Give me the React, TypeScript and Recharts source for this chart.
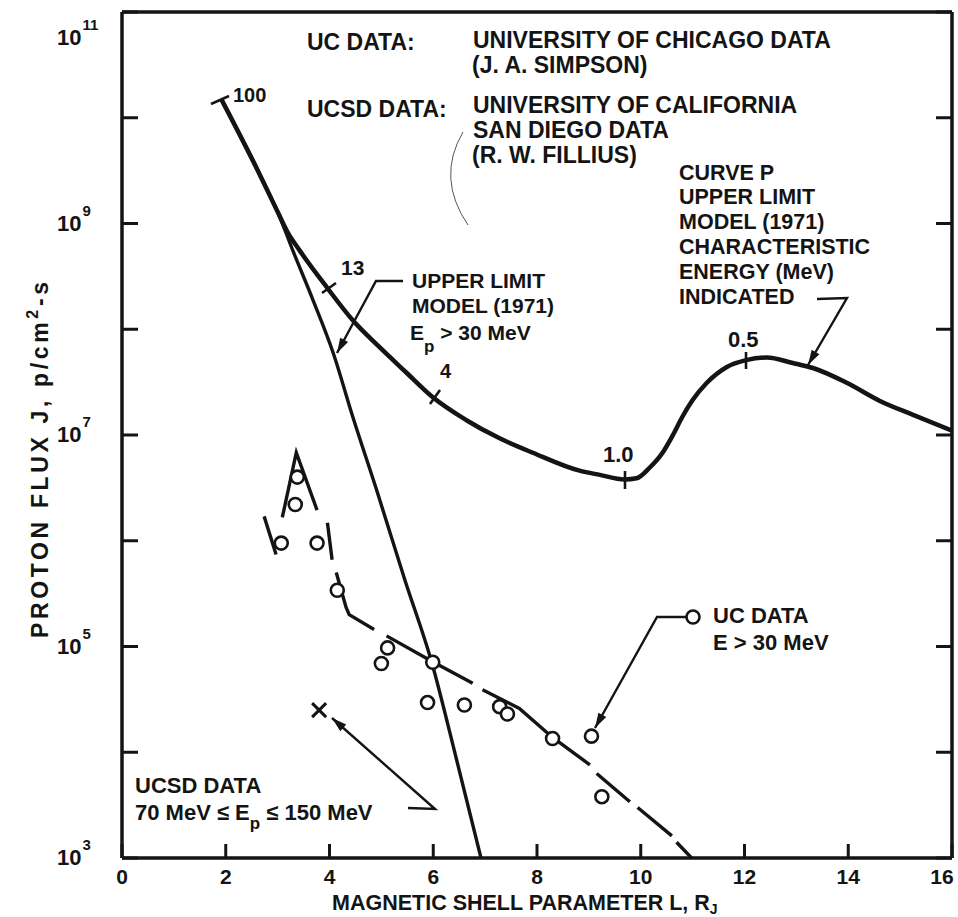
import React from "react";
import { ComposedChart, Line, Scatter, XAxis, YAxis } from "recharts";

const xTicks = [0, 2, 4, 6, 8, 10, 12, 14, 16];
const yTicks = [1e3, 1e4, 1e5, 1e6, 1e7, 1e8, 1e9, 1e10, 1e11];

// curve P: upper limit model (1971), characteristic energy marked along it
const curveP = [
  { x: 1.92, y: 1.48e10 },
  { x: 2.6, y: 3.3e9 },
  { x: 3.0, y: 1.29e9 },
  { x: 3.19, y: 8.3e8 },
  { x: 3.42, y: 5.6e8 },
  { x: 3.96, y: 2.45e8 },
  { x: 4.44, y: 1.23e8 },
  { x: 4.96, y: 6.8e7 },
  { x: 5.48, y: 3.9e7 },
  { x: 5.98, y: 2.3e7 },
  { x: 6.64, y: 1.38e7 },
  { x: 7.28, y: 9.3e6 },
  { x: 7.92, y: 6.8e6 },
  { x: 8.82, y: 4.6e6 },
  { x: 9.21, y: 4.2e6 },
  { x: 9.69, y: 3.8e6 },
  { x: 9.92, y: 3.9e6 },
  { x: 10.17, y: 4.9e6 },
  { x: 10.42, y: 6.8e6 },
  { x: 10.62, y: 1.0e7 },
  { x: 10.8, y: 1.48e7 },
  { x: 11.0, y: 2.14e7 },
  { x: 11.27, y: 3.1e7 },
  { x: 11.66, y: 4.4e7 },
  { x: 12.03, y: 5.1e7 },
  { x: 12.43, y: 5.4e7 },
  { x: 12.93, y: 4.8e7 },
  { x: 13.32, y: 4.3e7 },
  { x: 13.98, y: 3.1e7 },
  { x: 14.61, y: 2.1e7 },
  { x: 15.25, y: 1.55e7 },
  { x: 16.0, y: 1.1e7 },
];

// upper limit model (1971), Ep > 30 MeV
const model30 = [
  { x: 1.92, y: 1.48e10 },
  { x: 2.6, y: 3.3e9 },
  { x: 3.0, y: 1.29e9 },
  { x: 3.29, y: 5.6e8 },
  { x: 3.68, y: 1.9e8 },
  { x: 4.07, y: 6.0e7 },
  { x: 4.45, y: 1.48e7 },
  { x: 4.91, y: 3.0e6 },
  { x: 5.45, y: 4.3e5 },
  { x: 5.97, y: 7.1e4 },
  { x: 6.45, y: 8.5e3 },
  { x: 6.92, y: 1.0e3 },
];

// hand drawn dashed fit through the UC points, null = gap between dashes
const ucFit = [
  { x: 2.74, y: 1.7e6 },
  { x: 2.97, y: 7.4e5 },
  { x: 3.03, y: null },
  { x: 3.09, y: 1.66e6 },
  { x: 3.36, y: 6.8e6 },
  { x: 3.76, y: 1.95e6 },
  { x: 3.86, y: null },
  { x: 3.96, y: 1.48e6 },
  { x: 4.05, y: 6.6e5 },
  { x: 4.09, y: null },
  { x: 4.13, y: 5.0e5 },
  { x: 4.32, y: 2.34e5 },
  { x: 4.38, y: 2.0e5 },
  { x: 4.86, y: 1.45e5 },
  { x: 4.98, y: null },
  { x: 5.1, y: 1.26e5 },
  { x: 5.98, y: 7.2e4 },
  { x: 6.76, y: 4.5e4 },
  { x: 6.85, y: null },
  { x: 6.95, y: 3.9e4 },
  { x: 7.66, y: 2.6e4 },
  { x: 8.3, y: 1.38e4 },
  { x: 9.02, y: 7.6e3 },
  { x: 9.08, y: null },
  { x: 9.15, y: 6.3e3 },
  { x: 9.79, y: 3.4e3 },
  { x: 9.86, y: null },
  { x: 9.94, y: 3.0e3 },
  { x: 10.6, y: 1.62e3 },
  { x: 10.65, y: null },
  { x: 10.69, y: 1.41e3 },
  { x: 10.98, y: 1.0e3 },
];

// UC data, E > 30 MeV
const ucData = [
  { x: 3.38, y: 4.0e6 },
  { x: 3.34, y: 2.2e6 },
  { x: 3.07, y: 9.5e5 },
  { x: 3.76, y: 9.5e5 },
  { x: 4.15, y: 3.4e5 },
  { x: 5.12, y: 9.7e4 },
  { x: 5.0, y: 6.9e4 },
  { x: 5.99, y: 7.1e4 },
  { x: 5.89, y: 2.95e4 },
  { x: 6.6, y: 2.8e4 },
  { x: 7.28, y: 2.7e4 },
  { x: 7.43, y: 2.3e4 },
  { x: 8.3, y: 1.35e4 },
  { x: 9.05, y: 1.42e4 },
  { x: 9.25, y: 3.8e3 },
];

// UCSD data, 70 MeV <= Ep <= 150 MeV
const ucsdData = [{ x: 3.8, y: 2.5e4 }];

const INK = "#141414";
const FONT = "'Liberation Sans', Arial, sans-serif";
const PLOT = { left: 122, right: 952, top: 12, bottom: 858 };

function LeftTick({ y, payload }: any) {
  const exp = Math.round(Math.log10(payload.value));
  const base = Math.max(y + 7, 45);
  return (
    <g>
      <line x1={PLOT.left} x2={PLOT.left + 16} y1={y} y2={y} stroke={INK} strokeWidth={3} />
      {exp % 2 === 1 && (
        <text x={57} y={base} fontSize={22} fontWeight={700} fontFamily={FONT} fill={INK}>
          10
          <tspan dx={1} dy={-15} fontSize={15}>
            {exp}
          </tspan>
        </text>
      )}
    </g>
  );
}

function RightTick({ y }: any) {
  return <line x1={PLOT.right - 16} x2={PLOT.right} y1={y} y2={y} stroke={INK} strokeWidth={3} />;
}

function BottomTick({ x, payload }: any) {
  // the last label sits a little inside so it stays on the page
  const lx = payload.value === 16 ? x - 10 : x;
  return (
    <g>
      <line x1={x} x2={x} y1={PLOT.bottom} y2={PLOT.bottom - 14} stroke={INK} strokeWidth={3} />
      <text x={lx} y={884} textAnchor="middle" fontSize={21} fontWeight={700} fontFamily={FONT} fill={INK}>
        {payload.value}
      </text>
    </g>
  );
}

function TopTick({ x }: any) {
  return <line x1={x} x2={x} y1={PLOT.top} y2={PLOT.top + 15} stroke={INK} strokeWidth={3} />;
}

function Ring({ cx, cy }: any) {
  return <circle cx={cx} cy={cy} r={6.5} fill="#fff" stroke={INK} strokeWidth={2.6} />;
}

function Cross({ cx, cy }: any) {
  return (
    <g stroke={INK} strokeWidth={3}>
      <line x1={cx - 7} y1={cy - 7} x2={cx + 7} y2={cy + 7} />
      <line x1={cx - 7} y1={cy + 7} x2={cx + 7} y2={cy - 7} />
    </g>
  );
}

function Arrow({ pts }: { pts: number[][] }) {
  const [tx, ty] = pts[pts.length - 1];
  const [px, py] = pts[pts.length - 2];
  const a = Math.atan2(ty - py, tx - px);
  const L = 15;
  const W = 4.5;
  const bx = tx - L * Math.cos(a);
  const by = ty - L * Math.sin(a);
  const head = `${tx},${ty} ${bx - W * Math.sin(a)},${by + W * Math.cos(a)} ${bx + W * Math.sin(a)},${by - W * Math.cos(a)}`;
  return (
    <g>
      <polyline points={pts.map((p) => p.join(",")).join(" ")} fill="none" stroke={INK} strokeWidth={2.4} />
      <polygon points={head} fill={INK} />
    </g>
  );
}

function Label({ x, y, size = 22, children }: any) {
  return (
    <text x={x} y={y} fontSize={size} fontWeight={700} fontFamily={FONT} fill={INK}>
      {children}
    </text>
  );
}

function Notes() {
  return (
    <svg width={958} height={917} style={{ position: "absolute", left: 0, top: 0, pointerEvents: "none" }}>
      <Label x={307} y={50} size={23}>UC DATA:</Label>
      <Label x={473} y={48} size={23}>UNIVERSITY OF CHICAGO DATA</Label>
      <Label x={472} y={73} size={23}>(J. A. SIMPSON)</Label>
      <Label x={307} y={117} size={23}>UCSD DATA:</Label>
      <Label x={473} y={113} size={23}>UNIVERSITY OF CALIFORNIA</Label>
      <Label x={473} y={138} size={23}>SAN DIEGO DATA</Label>
      <Label x={472} y={163} size={23}>(R. W. FILLIUS)</Label>
      <path d="M463,132 Q436,178 468,225" fill="none" stroke="#555" strokeWidth={1} />

      <Label x={679} y={180} size={21.5}>CURVE P</Label>
      <Label x={679} y={204} size={21.5}>UPPER LIMIT</Label>
      <Label x={679} y={229} size={21.5}>MODEL (1971)</Label>
      <Label x={679} y={254} size={21.5}>CHARACTERISTIC</Label>
      <Label x={679} y={279} size={21.5}>ENERGY (MeV)</Label>
      <Label x={679} y={304} size={21.5}>INDICATED</Label>
      <Arrow pts={[[817, 299], [847, 298], [808, 365]]} />

      <Label x={412} y={288} size={21}>UPPER LIMIT</Label>
      <Label x={412} y={313} size={21}>MODEL (1971)</Label>
      <Label x={410} y={340} size={21}>
        E<tspan dy={12} fontSize={17}>p</tspan>
        <tspan dy={-12}> &gt; 30 MeV</tspan>
      </Label>
      <Arrow pts={[[403, 281], [376, 281], [337, 353]]} />

      <circle cx={693} cy={617} r={6.5} fill="#fff" stroke={INK} strokeWidth={2.6} />
      <Label x={713} y={623} size={22}>UC DATA</Label>
      <Label x={713} y={650} size={22}>E &gt; 30 MeV</Label>
      <Arrow pts={[[686, 617], [657, 617], [595, 728]]} />

      <Label x={135} y={793} size={22}>UCSD DATA</Label>
      <Label x={135} y={820} size={22}>
        70 MeV ≤ E<tspan dy={9} fontSize={17}>p</tspan>
        <tspan dy={-9}> ≤ 150 MeV</tspan>
      </Label>
      <Arrow pts={[[408, 808], [435, 809], [332, 718]]} />

      <g stroke={INK} strokeWidth={2.6}>
        <line x1={211} y1={104} x2={229} y2={96} />
        <line x1={322} y1={293} x2={336} y2={283} />
        <line x1={430} y1={404} x2={440} y2={390} />
        <line x1={625} y1={471} x2={625} y2={489} />
        <line x1={746} y1={352} x2={746} y2={369} />
      </g>
      <Label x={233} y={102} size={20}>100</Label>
      <Label x={341} y={275} size={21}>13</Label>
      <Label x={440} y={378} size={20}>4</Label>
      <Label x={603} y={462} size={22}>1.0</Label>
      <Label x={728} y={347} size={22}>0.5</Label>

      <text x={332} y={910} fontSize={21.5} fontWeight={700} fontFamily={FONT} fill={INK}>
        MAGNETIC SHELL PARAMETER L, R<tspan dy={4} fontSize={14}>J</tspan>
      </text>
      <text
        transform="translate(48,638) rotate(-90)"
        fontSize={23}
        fontWeight={700}
        fontFamily={FONT}
        fill={INK}
        textLength={356}
        lengthAdjust="spacing"
      >
        PROTON FLUX J, p/cm<tspan dy={-10} fontSize={16}>2</tspan>
        <tspan dy={10}>-s</tspan>
      </text>
    </svg>
  );
}

export default function App() {
  return (
    <div style={{ position: "absolute", left: 0, top: 0, width: 958, height: 917, background: "#fff" }}>
      <ComposedChart width={958} height={917} margin={{ top: 11, right: 5, bottom: 0, left: 0 }}>
        <XAxis
          xAxisId="b"
          dataKey="x"
          type="number"
          domain={[0, 16]}
          ticks={xTicks}
          allowDataOverflow
          height={59}
          axisLine={{ stroke: INK, strokeWidth: 3.5 }}
          tickLine={false}
          tick={<BottomTick />}
          interval={0}
        />
        <XAxis
          xAxisId="t"
          orientation="top"
          type="number"
          domain={[0, 16]}
          ticks={xTicks}
          allowDataOverflow
          height={1}
          axisLine={{ stroke: INK, strokeWidth: 3.5 }}
          tickLine={false}
          tick={<TopTick />}
          interval={0}
        />
        <YAxis
          yAxisId="l"
          dataKey="y"
          type="number"
          scale="log"
          domain={[1e3, 1e11]}
          ticks={yTicks}
          allowDataOverflow
          width={122}
          axisLine={{ stroke: INK, strokeWidth: 3.5 }}
          tickLine={false}
          tick={<LeftTick />}
          interval={0}
        />
        <YAxis
          yAxisId="r"
          orientation="right"
          type="number"
          scale="log"
          domain={[1e3, 1e11]}
          ticks={yTicks}
          allowDataOverflow
          width={1}
          axisLine={{ stroke: INK, strokeWidth: 3.5 }}
          tickLine={false}
          tick={<RightTick />}
          interval={0}
        />
        <Line xAxisId="b" yAxisId="l" data={curveP} dataKey="y" type="monotone" stroke={INK} strokeWidth={4.5} dot={false} isAnimationActive={false} />
        <Line xAxisId="b" yAxisId="l" data={model30} dataKey="y" type="monotone" stroke={INK} strokeWidth={3.4} dot={false} isAnimationActive={false} />
        <Line xAxisId="b" yAxisId="l" data={ucFit} dataKey="y" type="linear" stroke={INK} strokeWidth={3.4} dot={false} connectNulls={false} isAnimationActive={false} />
        <Scatter xAxisId="b" yAxisId="l" data={ucData} dataKey="y" shape={<Ring />} isAnimationActive={false} />
        <Scatter xAxisId="b" yAxisId="l" data={ucsdData} dataKey="y" shape={<Cross />} isAnimationActive={false} />
      </ComposedChart>
      <Notes />
    </div>
  );
}
